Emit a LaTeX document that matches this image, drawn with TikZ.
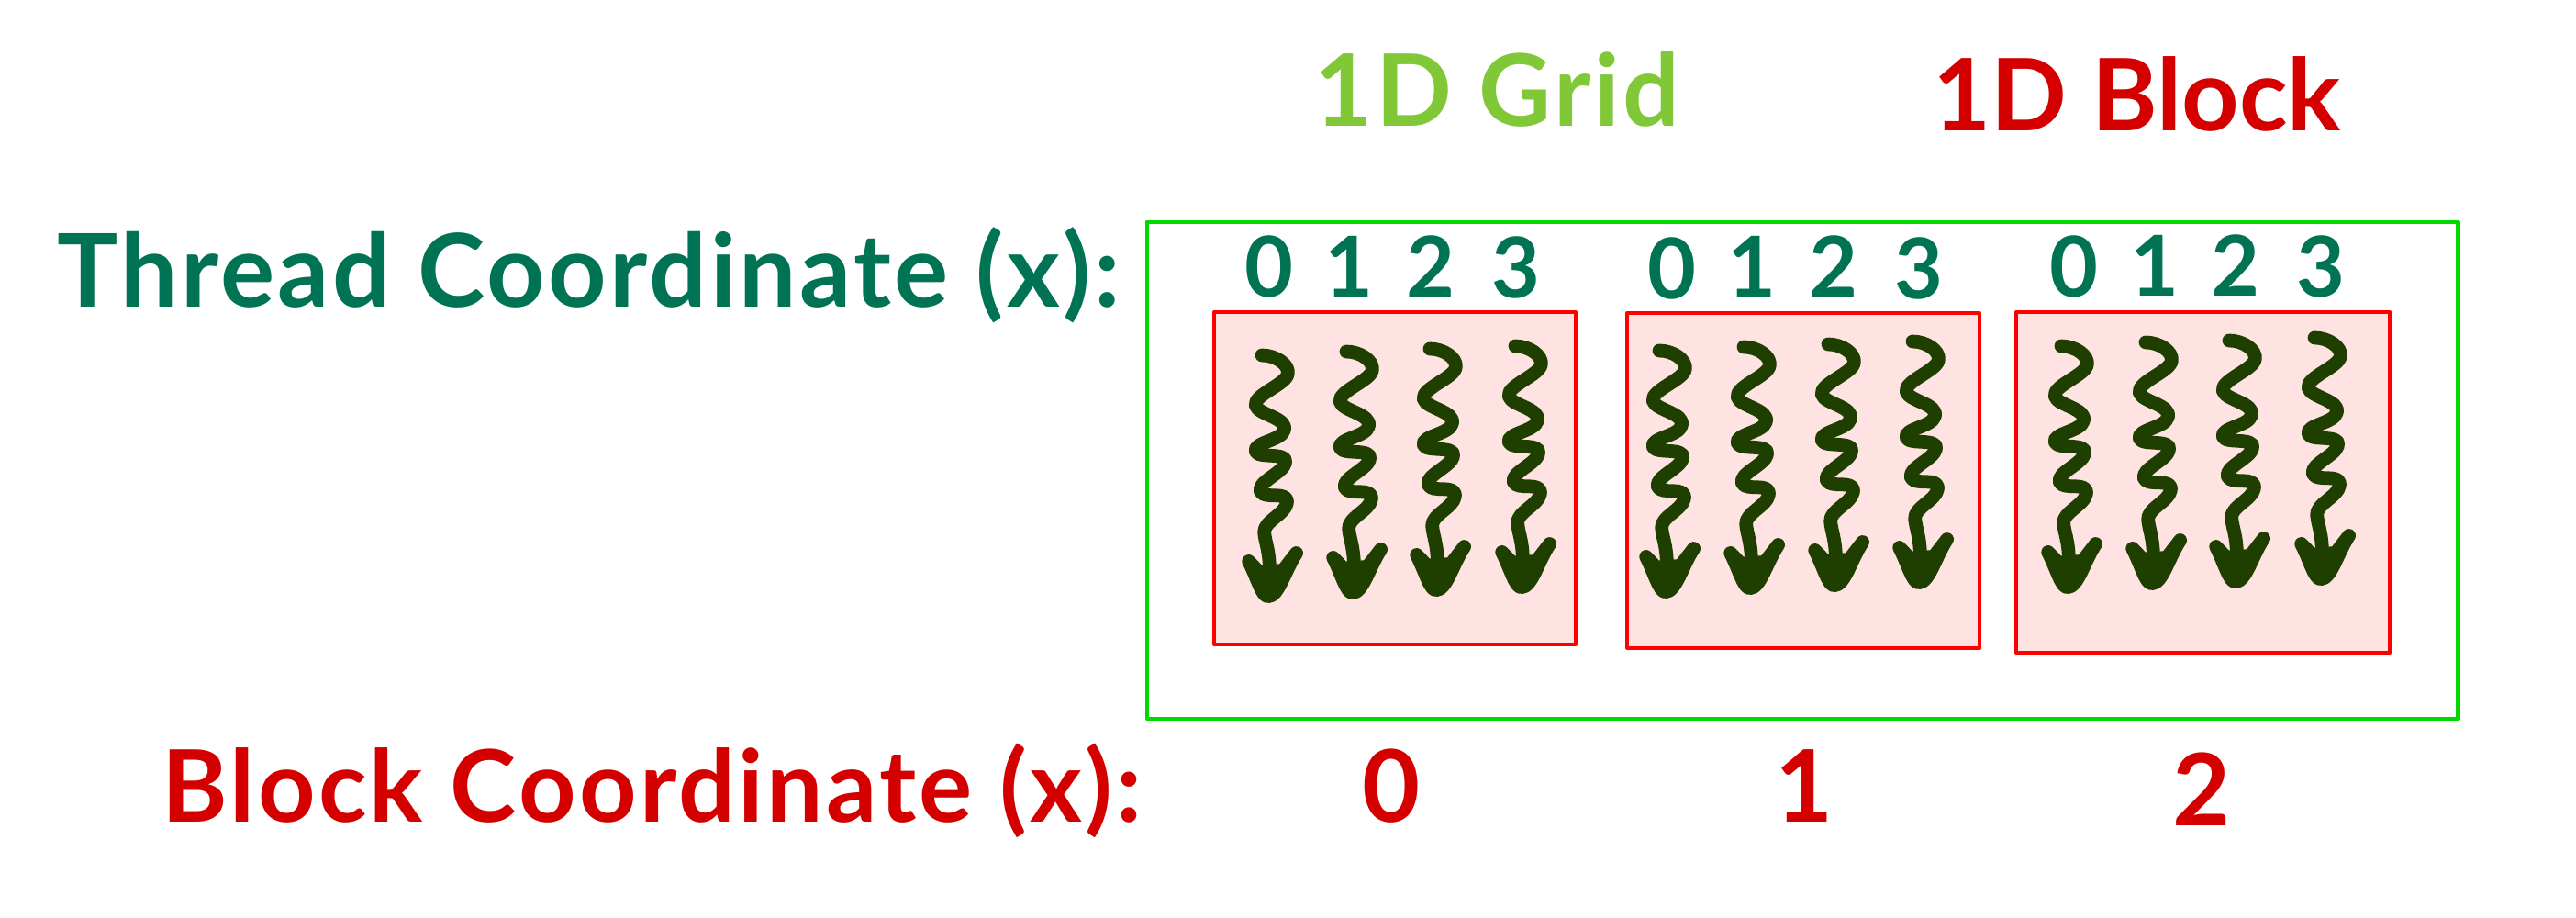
\documentclass[tikz,border=0pt]{standalone}
\usepackage{fontspec}
\setmainfont{Lato}[BoldFont={Lato Bold}]
\newfontfamily\widefont{Lato}[BoldFont={Lato Bold},LetterSpace=3]
\usetikzlibrary{arrows.meta,calc}
\definecolor{threadteal}{RGB}{0,115,85}
\definecolor{gridlime}{RGB}{128,200,55}
\definecolor{blockred}{RGB}{212,0,0}
\definecolor{gridgreen}{RGB}{0,217,0}
\definecolor{boxred}{RGB}{255,0,0}
\definecolor{boxfill}{RGB}{255,227,227}
\definecolor{threadgreen}{RGB}{31,63,0}
\tikzset{
 biglabel/.style={anchor=base west,inner sep=0pt,font=\fontsize{31}{36}\selectfont\bfseries},
 widelabel/.style={biglabel,font=\fontsize{31}{36}\widefont\bfseries},
 digitlabel/.style={anchor=base,inner sep=0pt,font=\fontsize{26}{30}\selectfont\bfseries,text=threadteal},
 blockdigit/.style={anchor=base,inner sep=0pt,font=\fontsize{31}{36}\selectfont\bfseries,text=blockred},
 blockbox/.style={draw=boxred,fill=boxfill,line width=1.2pt,line join=round},
 threadline/.style={x=0.00333cm,y=-0.00333cm,draw=threadgreen,line width=4.2pt,line cap=round,line join=round},
 threadarrow/.pic={
  \draw[threadline] (0,0) .. controls (45,0) and (90,30) .. (85,60) .. controls (82,95) and (-30,130) .. (-20,165) .. controls (-12,195) and (85,205) .. (73,245) .. controls (65,280) and (-30,285) .. (-20,315) .. controls (-12,340) and (85,315) .. (77,352) .. controls (70,385) and (-15,415) .. (-5,445) .. controls (5,475) and (90,440) .. (82,485) .. controls (76,520) and (5,545) .. (8,580) .. controls (10,610) and (25,640) .. (25,700);
  \filldraw[threadline,fill=threadgreen] (-43,675) -- (-9,710) -- (69,705) -- (113,648) .. controls (75,705) and (55,790) .. (20,790) .. controls (0,790) and (-15,730) .. cycle;
 }
}
\begin{document}
\begin{tikzpicture}
 \useasboundingbox (0,0) rectangle (28.07,10);
 \node[widelabel,text=gridlime] (gridtitle) at (14.32,8.62) {1D Grid};
 \node[biglabel,text=blockred] (blocktitle) at (21.06,8.57) {1D Block};
 \node[widelabel,font=\fontsize{31.5}{36}\widefont\bfseries,text=threadteal] (threadcoord) at (0.62,6.65) {Thread Coordinate (x):};
 \node[widelabel,text=blockred] (blockcoord) at (1.76,1.04) {Block Coordinate (x):};
 % outer grid, then the three blocks
 \draw[draw=gridgreen,line width=1.4pt,line join=round] (12.50,7.58) rectangle (26.78,2.17);
 \draw[blockbox] (13.23,6.60) rectangle (17.17,2.98);
 \draw[blockbox] (17.73,6.59) rectangle (21.57,2.94);
 \draw[blockbox] (21.97,6.60) rectangle (26.04,2.89);
 \foreach \x/\y/\d in {13.83/6.76/0,14.70/6.76/1,15.59/6.76/2,16.52/6.75/3,
   18.22/6.74/0,19.09/6.76/1,19.98/6.76/2,20.91/6.74/3,
   22.60/6.76/0,23.48/6.77/1,24.36/6.77/2,25.29/6.76/3}
  \node[digitlabel] (thread\x) at (\x,\y) {\d};
 \foreach \x/\y in {13.75/6.13,14.67/6.17,15.58/6.20,16.51/6.23,
   18.08/6.18,19.00/6.22,19.92/6.25,20.84/6.28,
   22.46/6.23,23.38/6.27,24.29/6.29,25.22/6.32}
  \pic at (\x,\y) {threadarrow};
 \node[blockdigit] (block0) at (15.16,1.04) {0};
 \node[blockdigit] (block1) at (19.66,1.04) {1};
 \node[blockdigit] (block2) at (23.99,1.00) {2};
\end{tikzpicture}
\end{document}
